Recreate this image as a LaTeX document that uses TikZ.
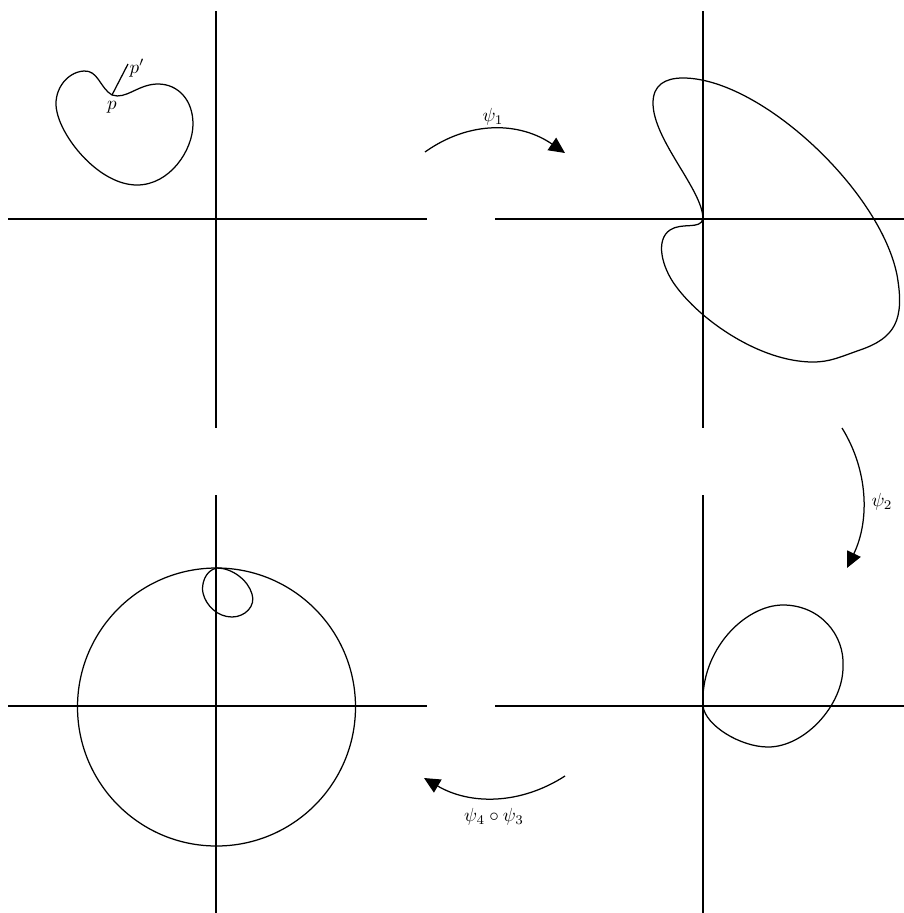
\documentclass[tikz,border=0pt]{standalone}
\usetikzlibrary{arrows.meta}
\begin{document}
\begin{tikzpicture}[x=1pt,y=-1pt,line width=1.25pt,
  axis/.style={line width=1.25pt},
  curve/.style={line width=1.25pt},
  maparrow/.style={line width=1.25pt,-{Triangle[length=16pt,width=15pt]}},
  lbl/.style={inner sep=0pt,scale=1.9}]
\useasboundingbox (0,0) rectangle (904,913);
% axes
\draw[axis] (8,219) -- (427,219);
\draw[axis] (216,11) -- (216,428);
\draw[axis] (495,219) -- (904,219);
\draw[axis] (703,11) -- (703,428);
\draw[axis] (8,706) -- (427,706);
\draw[axis] (216,495) -- (216,913);
\draw[axis] (495,706) -- (904,706);
\draw[axis] (703,495) -- (703,913);
% top-left curve
\coordinate (p) at (112,95);
\draw[curve] (p) .. controls (100,88) and (98,70) .. (84,71)
  .. controls (66,72) and (52,92) .. (57,112)
  .. controls (63,140) and (100,185) .. (137,185)
  .. controls (170,185) and (193,150) .. (193,124)
  .. controls (193,100) and (178,84) .. (158,84)
  .. controls (138,84) and (126,100) .. (p);
\coordinate (pp) at (128,64);
\draw[curve] (p) -- (pp);
\node[lbl] (plabel) at (112,107) {$p$};
\node[lbl] (pplabel) at (137,68) {$p'$};
% top-right curve
\coordinate (o1) at (703,219);
\draw[curve] (o1) .. controls (703,190) and (653,140) .. (653,103)
  .. controls (653,85) and (665,78) .. (683,78)
  .. controls (760,78) and (880,190) .. (897,275)
  .. controls (905,320) and (895,338) .. (860,350)
  .. controls (840,357) and (830,362) .. (813,362)
  .. controls (760,362) and (700,320) .. (675,285)
  .. controls (662,267) and (655,240) .. (670,230)
  .. controls (682,222) and (700,230) .. (o1);
% bottom-right curve
\coordinate (o2) at (703,706);
\draw[curve] (o2) .. controls (700,650) and (745,605) .. (783,605)
  .. controls (820,605) and (845,635) .. (843,667)
  .. controls (843,705) and (805,747) .. (768,747)
  .. controls (740,747) and (705,725) .. (o2);
% bottom-left circle and loop
\node[draw,circle,curve,minimum size=278pt,inner sep=0pt] (circ) at (216.5,707) {};
\coordinate (o3) at (217,568);
\draw[curve] (o3) .. controls (205,570) and (201,585) .. (203,593)
  .. controls (206,606) and (218,617) .. (232,617)
  .. controls (245,617) and (256,606) .. (252,594)
  .. controls (248,580) and (232,568) .. (o3);
% arrows
\coordinate (a1s) at (425,152);
\coordinate (a1e) at (565,153);
\draw[maparrow] (a1s) .. controls (470,120) and (520,122) .. (a1e);
\node[lbl] (psi1) at (493,117) {$\psi_1$};
\coordinate (a2s) at (842,428);
\coordinate (a2e) at (847,568);
\draw[maparrow] (a2s) .. controls (868,470) and (870,520) .. (a2e);
\node[lbl] (psi2) at (882,502) {$\psi_2$};
\coordinate (a3s) at (565,776);
\coordinate (a3e) at (424,778);
\draw[maparrow] (a3s) .. controls (520,805) and (470,805) .. (a3e);
\node[lbl] (psi43) at (494,817) {$\psi_4\circ\psi_3$};
\end{tikzpicture}
\end{document}
